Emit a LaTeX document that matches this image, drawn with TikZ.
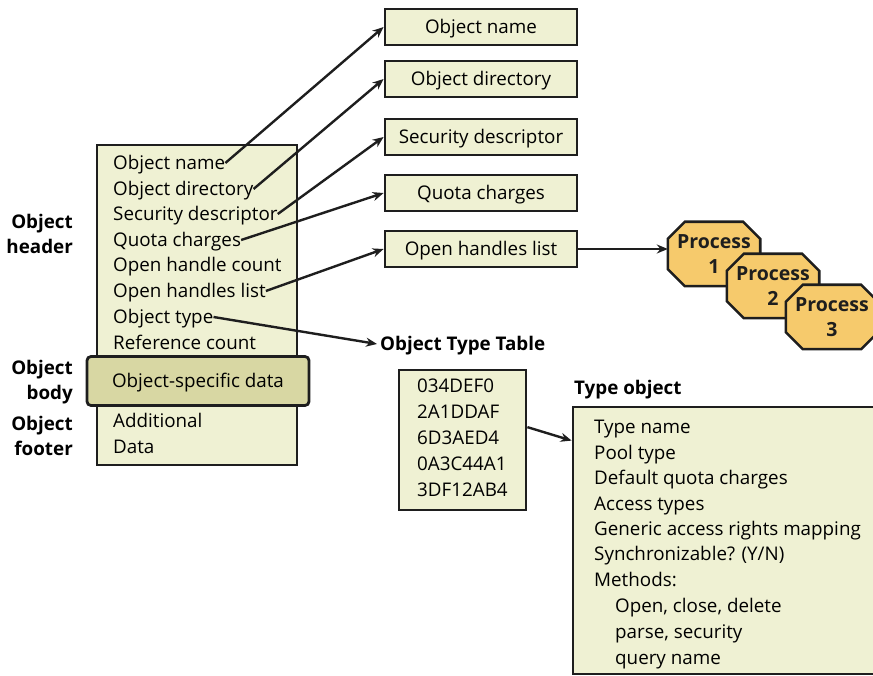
\documentclass[tikz,border=0pt]{standalone}
\usepackage{fontspec}
\setmainfont{Open Sans}
\usetikzlibrary{arrows.meta,calc}
\definecolor{pale}{HTML}{EFF1D3}
\definecolor{bodyc}{HTML}{D8D7A3}
\definecolor{procc}{HTML}{F6CA6C}
\definecolor{ink}{HTML}{1E1E1E}
\newcommand{\procbox}[4]{%
  \path (#2,#3) node[minimum width=92pt,minimum height=64pt,inner sep=0pt] (#1) {};
  \draw[procshape] ([xshift=17pt]#1.north west) -- ([xshift=-17pt]#1.north east)
    -- ([yshift=-17pt]#1.north east) -- ([yshift=17pt]#1.south east)
    -- ([xshift=-17pt]#1.south east) -- ([xshift=17pt]#1.south west)
    -- ([yshift=17pt]#1.south west) -- ([yshift=-17pt]#1.north west) -- cycle;
  \node[proctext] (#1t) at (#1) {Process\\#4};
}
\begin{document}
\begin{tikzpicture}[x=1pt,y=-1pt,
  font=\fontsize{18.8}{22}\selectfont,
  box/.style={draw=ink,line width=2.8pt,fill=pale,inner sep=0pt,text height=16pt,text depth=2pt},
  txt/.style={anchor=west,inner sep=0pt,text height=16pt,text depth=2pt},
  lbl/.style={font=\fontsize{18.8}{25}\selectfont\bfseries,align=right,inner sep=0pt,anchor=east},
  arr/.style={draw=ink,line width=2.4pt,-{Stealth[length=11pt,width=9pt]}},
  procshape/.style={draw=ink,line width=2.6pt,fill=procc,line join=miter},
  proctext/.style={font=\fontsize{19.5}{25}\selectfont\bfseries,align=center,inner sep=0pt,text=ink}]
\useasboundingbox (0,0) rectangle (873,676);

% main object box
\node[box,minimum width=200pt,minimum height=320pt] (obj) at (197,305) {};
\node[txt] (h1) at (113,163) {Object name};
\node[txt] (h2) at (113,189) {Object directory};
\node[txt] (h3) at (113,214) {Security descriptor};
\node[txt] (h4) at (113,240) {Quota charges};
\node[txt] (h5) at (113,265) {Open handle count};
\node[txt] (h6) at (113,291) {Open handles list};
\node[txt] (h7) at (113,317) {Object type};
\node[txt] (h8) at (113,342) {Reference count};
\node[box,fill=bodyc,rounded corners=4pt,minimum width=222pt,minimum height=49pt] (body) at (198,381) {Object-specific data};
\node[txt] (f1) at (113,420) {Additional};
\node[txt] (f2) at (113,446) {Data};

% left labels
\node[lbl] (lh) at (73,234) {Object\\header};
\node[lbl] (lb) at (73,382) {Object\\body};
\node[lbl] (lf) at (73,436) {Object\\footer};

% right boxes
\node[box,minimum width=192pt,minimum height=36pt] (r1) at (481,27) {Object name};
\node[box,minimum width=192pt,minimum height=36pt] (r2) at (481,79) {Object directory};
\node[box,minimum width=192pt,minimum height=36pt] (r3) at (481,137) {Security descriptor};
\node[box,minimum width=192pt,minimum height=36pt] (r4) at (481,193) {Quota charges};
\node[box,minimum width=192pt,minimum height=36pt] (r5) at (481,249) {Open handles list};

\draw[arr] (h1.east) -- (r1.west);
\draw[arr] (h2.east) -- (r2.west);
\draw[arr] (h3.east) -- (r3.west);
\draw[arr] (h4.east) -- (r4.west);
\draw[arr] (h6.east) -- (r5.west);

% processes
\procbox{p1}{714}{254}{1}
\procbox{p2}{773}{286}{2}
\procbox{p3}{832}{317}{3}
\draw[arr] (r5.east) -- (r5.east -| p1.west);

% object type table
\node[font=\fontsize{18.8}{22}\selectfont\bfseries,anchor=west,inner sep=0pt,text height=16pt,text depth=2pt] (ott) at (380,344) {Object Type Table};
\draw[arr] (h7.east) -- ([xshift=-3pt]ott.west);

\node[box,minimum width=127pt,minimum height=140pt] (tbl) at (462.5,440) {};
\node[txt] (t1) at (417,385) {034DEF0};
\node[txt] (t2) at (417,411) {2A1DDAF};
\node[txt] (t3) at (417,437) {6D3AED4};
\node[txt] (t4) at (417,463) {0A3C44A1};
\node[txt] (t5) at (417,489) {3DF12AB4};

% type object
\node[font=\fontsize{18.8}{22}\selectfont\bfseries,anchor=west,inner sep=0pt,text height=16pt,text depth=2pt] (tol) at (574,387) {Type object};
\node[box,minimum width=304pt,minimum height=267pt] (tob) at (725,540.5) {};
\node[txt] (o1) at (594,426) {Type name};
\node[txt] (o2) at (594,452) {Pool type};
\node[txt] (o3) at (594,477) {Default quota charges};
\node[txt] (o4) at (594,503) {Access types};
\node[txt] (o5) at (594,528) {Generic access rights mapping};
\node[txt] (o6) at (594,553) {Synchronizable? (Y/N)};
\node[txt] (o7) at (594,579) {Methods:};
\node[txt] (o8) at (615,605) {Open, close, delete};
\node[txt] (o9) at (615,631) {parse, security};
\node[txt] (o10) at (615,657) {query name};

\coordinate (ta) at ($(tbl.north east)!0.41!(tbl.south east)$);
\coordinate (tb) at ($(tob.north west)+(0,35)$);
\draw[arr] (ta) -- (tb);
\end{tikzpicture}
\end{document}
